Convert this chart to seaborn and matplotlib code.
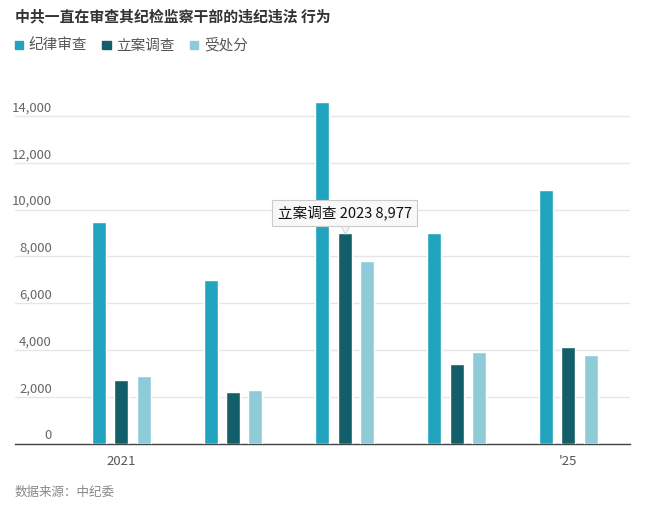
import matplotlib
matplotlib.use("Agg")
import matplotlib.pyplot as plt
import matplotlib.transforms as mtransforms
import seaborn as sns
import pandas as pd

years = ["2021", "2022", "2023", "2024", "2025"]
tick_labels = ["2021", "", "", "", "'25"]
series_names = ["纪律审查", "立案调查", "受处分"]
review = [9480, 6990, 14610, 9010, 10830]
investigate = [2700, 2190, 8977, 3385, 4110]
punished = [2885, 2285, 7790, 3900, 3770]
colors = ["#21a5bf", "#135f69", "#8ecbd9"]
y_ticks = [0, 2000, 4000, 6000, 8000, 10000, 12000, 14000]

sns.set_style("white")
plt.rcParams["font.family"] = ["Noto Sans CJK SC", "DejaVu Sans"]

df = pd.DataFrame({
    "year": years * 3,
    "series": sum([[s] * len(years) for s in series_names], []),
    "value": review + investigate + punished,
})

fig = plt.figure(figsize=(6.5, 5.11), dpi=100)
ax = fig.add_axes([0.023, 0.132, 0.946, 0.687])

sns.barplot(data=df, x="year", y="value", hue="series", hue_order=series_names,
            palette=colors, width=0.6, gap=0.375, saturation=1, ax=ax,
            legend=False, zorder=3)

ax.set_ylim(0, 15000)
ax.set_xlim(-0.95, 4.55)
ax.set_yticks(y_ticks)
ax.set_yticklabels([])
ax.tick_params(axis="y", length=0)
ax.grid(axis="y", color="#e6e6e6", linewidth=1, zorder=0)
ax.set_xticks(range(len(years)))
ax.set_xticklabels(tick_labels, fontsize=9.5, color="#555555")
ax.tick_params(axis="x", length=5, width=1, color="#555555", pad=3)
ax.set_xlabel("")
ax.set_ylabel("")
for side in ["top", "right", "left"]:
    ax.spines[side].set_visible(False)
ax.spines["bottom"].set_color("#444444")
ax.spines["bottom"].set_linewidth(1)

# y labels sit above the gridlines, inside the plot
trans = mtransforms.blended_transform_factory(ax.transAxes, ax.transData)
for v in y_ticks:
    ax.text(0.06, v + 60, f"{v:,}", transform=trans, ha="right", va="bottom",
            fontsize=9.5, color="#666666")

# tooltip on the 2023 investigation bar
ax.annotate(f"{series_names[1]} {years[2]} {investigate[2]:,}",
            xy=(2, investigate[2]), xytext=(0, 14.5), textcoords="offset points",
            ha="center", va="center", fontsize=10.5, color="#111111",
            bbox=dict(boxstyle="square,pad=0.38", fc="#f8f8f8", ec="#cccccc", lw=0.8),
            zorder=6)
ax.scatter([2], [investigate[2] + 130], marker="v", s=30, color="#f8f8f8",
           edgecolors="#cccccc", linewidths=0.6, zorder=7)

fig.text(0.023, 0.968, "中共一直在审查其纪检监察干部的违纪违法 行为", fontsize=10.7,
         fontweight="bold", color="#333333", va="center")

x = 0.023
for name, c in zip(series_names, colors):
    fig.patches.append(plt.Rectangle((x, 0.904), 0.0125, 0.015, color=c,
                                     transform=fig.transFigure, figure=fig))
    t = fig.text(x + 0.0215, 0.911, name, fontsize=10.5, color="#555555", va="center")
    fig.canvas.draw()
    bb = t.get_window_extent()
    x = (bb.x1 + 15) / fig.bbox.width

fig.text(0.023, 0.037, "数据来源：中纪委", fontsize=9, color="#888888", va="center")

fig.savefig("out.png", dpi=100)
